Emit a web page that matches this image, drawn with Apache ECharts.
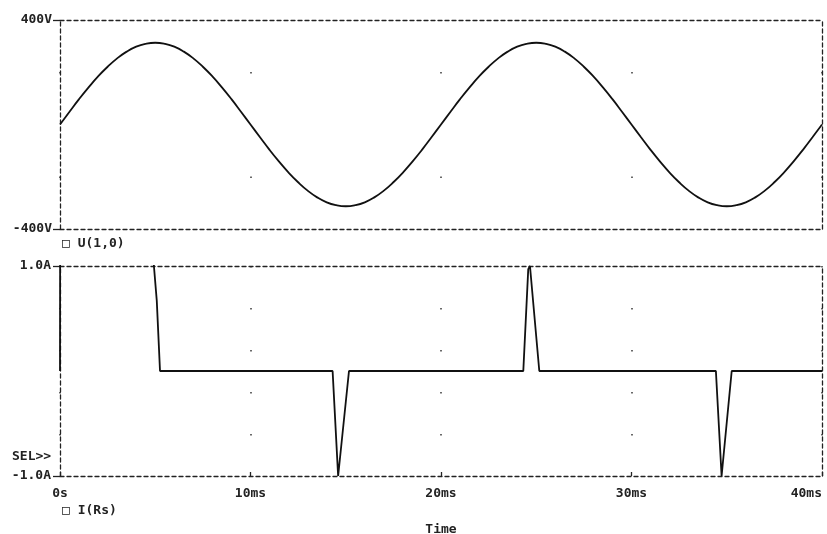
<!DOCTYPE html>
<html>
<head>
<meta charset="utf-8">
<script src="https://cdn.jsdelivr.net/npm/echarts@6/dist/echarts.min.js"></script>
<style>
html, body { margin: 0; padding: 0; background: #fff; }
#chart { width: 827px; height: 534px; }
</style>
</head>
<body>
<div id="chart"></div>
<script>
// time axis (ms)
var timeTicks = [0, 10, 20, 30, 40];

// V(1,0), read every 0.5 ms from 0 to 40 ms
var voltStep = 0.5;
var voltValues = [
    0, 49, 97, 142, 184, 221, 253, 279, 298, 309, 313, 309, 298, 279, 253, 221, 184, 142, 97, 49,
    0, -49, -97, -142, -184, -221, -253, -279, -298, -309, -313, -309, -298, -279, -253, -221, -184, -142, -97, -49,
    0, 49, 97, 142, 184, 221, 253, 279, 298, 309, 313, 309, 298, 279, 253, 221, 184, 142, 97, 49,
    0, -49, -97, -142, -184, -221, -253, -279, -298, -309, -313, -309, -298, -279, -253, -221, -184, -142, -97, -49,
    0
];

// I(Rs): [time ms, current A]; before ~4.9 ms the trace is off the top of the plot
var currentTimes = [0, 0.01, 4.9, 4.93, 5.08, 5.25, 14.31, 14.6, 15.17, 24.32, 24.58, 24.67, 25.16, 34.43, 34.73, 35.26, 40];
var currentValues = [0, 1.6, 1.6, 1.0, 0.67, 0, 0, -1.0, 0, 0, 0.97, 1.0, 0, 0, -1.0, 0, 0];

var voltData = voltValues.map(function (v, i) { return [i * voltStep, v]; });
var currentData = currentTimes.map(function (t, i) { return [t, currentValues[i]]; });

var font = {
    fontFamily: "DejaVu Sans Mono",
    fontWeight: "bold",
    fontSize: 13,
    color: "#222"
};
var labelFont = "bold 13px 'DejaVu Sans Mono'";
var border = { color: "#222", width: 1.3, type: [4, 3] };

function frameAxis(grid, pos) {
    return {
        type: "value",
        gridIndex: grid,
        position: pos,
        min: pos === "top" || pos === "bottom" ? 0 : -1,
        max: pos === "top" || pos === "bottom" ? 40 : 1,
        axisLine: { show: true, onZero: false, lineStyle: border },
        axisTick: { show: false },
        axisLabel: { show: false },
        splitLine: { show: false }
    };
}

var chart = echarts.init(document.getElementById("chart"));
var option = {
    backgroundColor: "#fff",
    animation: false,
    grid: [
        { left: 60, top: 20, right: 5, height: 209, outerBoundsMode: "none" },
        { left: 60, top: 266, right: 5, height: 210, outerBoundsMode: "none" }
    ],
    xAxis: [
        {
            type: "value",
            gridIndex: 0,
            position: "bottom",
            min: 0,
            max: 40,
            interval: 10,
            axisLine: { show: true, onZero: false, lineStyle: border },
            axisTick: { show: false },
            axisLabel: { show: false },
            splitLine: {
                show: true,
                lineStyle: { color: "#444", width: 1.6, type: [1.6, 102.9], dashOffset: 52.5 }
            }
        },
        {
            type: "value",
            gridIndex: 1,
            position: "bottom",
            min: 0,
            max: 40,
            interval: 10,
            name: "Time",
            nameLocation: "middle",
            nameGap: 47,
            nameTextStyle: font,
            axisLine: { show: true, onZero: false, lineStyle: border },
            axisTick: { show: true, inside: true, length: 4, lineStyle: { color: "#222", width: 1.3 } },
            axisLabel: Object.assign({
                margin: 11,
                alignMaxLabel: "right",
                formatter: function (v) { return v === 0 ? "0s" : v + "ms"; }
            }, font),
            splitLine: {
                show: true,
                lineStyle: { color: "#444", width: 1.6, type: [1.6, 40.4], dashOffset: 0 }
            }
        },
        frameAxis(0, "top"),
        frameAxis(1, "top")
    ],
    yAxis: [
        {
            type: "value",
            gridIndex: 0,
            min: -400,
            max: 400,
            interval: 800,
            axisLine: { show: true, onZero: false, lineStyle: border },
            axisTick: { show: true, length: 7, lineStyle: { color: "#222", width: 1.3 } },
            axisLabel: Object.assign({ margin: 8, formatter: function (v) { return v + "V"; } }, font),
            splitLine: { show: false }
        },
        {
            type: "value",
            gridIndex: 1,
            min: -1,
            max: 1,
            interval: 2,
            axisLine: { show: true, onZero: false, lineStyle: border },
            axisTick: { show: true, length: 7, lineStyle: { color: "#222", width: 1.3 } },
            axisLabel: Object.assign({ margin: 9, formatter: function (v) { return v.toFixed(1) + "A"; } }, font),
            splitLine: { show: false }
        },
        frameAxis(0, "right"),
        frameAxis(1, "right")
    ],
    graphic: [
        { type: "text", left: 62, top: 237, style: { text: "\u25a1 U(1,0)", fill: "#222", font: labelFont } },
        { type: "text", left: 62, top: 504, style: { text: "\u25a1 I(Rs)", fill: "#222", font: labelFont } },
        { type: "text", left: 12, top: 450, style: { text: "SEL>>", fill: "#222", font: labelFont } }
    ],
    series: [
        {
            name: "U(1,0)",
            type: "line",
            xAxisIndex: 0,
            yAxisIndex: 0,
            data: voltData,
            smooth: true,
            symbol: "none",
            lineStyle: { color: "#111", width: 1.8 }
        },
        {
            name: "I(Rs)",
            type: "line",
            xAxisIndex: 1,
            yAxisIndex: 1,
            data: currentData,
            symbol: "none",
            clip: true,
            lineStyle: { color: "#111", width: 1.8 }
        }
    ]
};
chart.setOption(option);
</script>
</body>
</html>
